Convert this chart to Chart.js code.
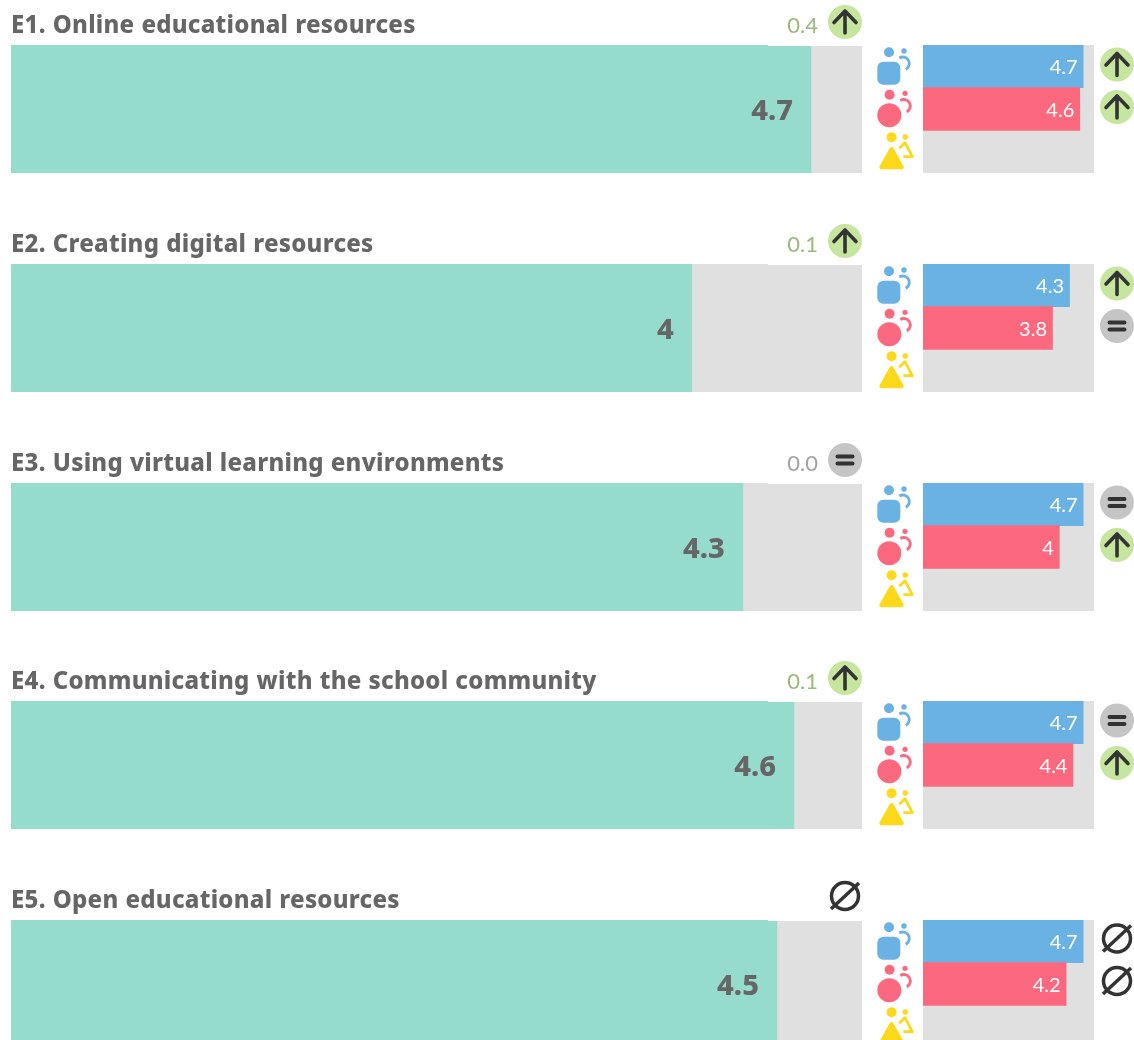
<!DOCTYPE html>
<html><head><meta charset="utf-8">
<style>
html,body{margin:0;padding:0;background:#fff;width:1134px;height:1040px;overflow:hidden}
.c{position:absolute}
canvas{display:block}
</style>
<script src="https://cdn.jsdelivr.net/npm/chart.js@4"></script>
</head><body>
<script>
const areaTitles = ["E1. Online educational resources","E2. Creating digital resources","E3. Using virtual learning environments","E4. Communicating with the school community","E5. Open educational resources"];
const overallValues = [4.7,4,4.3,4.6,4.5];
const overallChangeLabels = ["0.4","0.1","0.0","0.1",null];
const overallStatus = ["up","up","equal","up","none"];
const groups = ["Men","Women","Other"];
const menValues = [4.7,4.3,4.7,4.7,4.7];
const womenValues = [4.6,3.8,4,4.4,4.2];
const otherValues = [null,null,null,null,null];
const menStatus = ["up","up","equal","equal","none"];
const womenStatus = ["up","equal","up","up","none"];
const scaleMax = 5;

const rowTops=[45,264,483,701,920];
const DARK='#333333',TEAL='#96dccd',GREY='#e0e0e0',BLUE='#6ab2e3',PINK='#fc687d',YEL='#fdd81b',GREEN='#c6e69f',BADGEGREY='#c5c5c5';

function badge(ctx,x,y,kind){
  ctx.save();
  ctx.lineCap='round';ctx.lineJoin='round';ctx.strokeStyle=DARK;
  if(kind==='up'){
    ctx.fillStyle=GREEN;ctx.beginPath();ctx.arc(x,y,17,0,Math.PI*2);ctx.fill();
    ctx.lineWidth=3.6;ctx.beginPath();ctx.moveTo(x,y+11);ctx.lineTo(x,y-11);ctx.moveTo(x-11,y+0.5);ctx.lineTo(x,y-11);ctx.lineTo(x+11,y+0.5);ctx.stroke();
  }else if(kind==='equal'){
    ctx.fillStyle=BADGEGREY;ctx.beginPath();ctx.arc(x,y,17,0,Math.PI*2);ctx.fill();
    ctx.lineWidth=4;ctx.beginPath();ctx.moveTo(x-7.5,y-3.4);ctx.lineTo(x+7.5,y-3.4);ctx.moveTo(x-7.5,y+3.4);ctx.lineTo(x+7.5,y+3.4);ctx.stroke();
  }else{
    y-=1;
    ctx.lineWidth=3.5;ctx.beginPath();ctx.arc(x,y,13.5,0,Math.PI*2);ctx.stroke();
    ctx.lineCap='butt';ctx.beginPath();ctx.moveTo(x-14,y+13);ctx.lineTo(x+14,y-13);ctx.stroke();
  }
  ctx.restore();
}
function sideArc(ctx,x,y,col){
  ctx.strokeStyle=col;ctx.lineWidth=2.8;ctx.lineCap='butt';
  ctx.beginPath();ctx.arc(x,y,6.5,-Math.PI*0.68,Math.PI*0.35);ctx.stroke();
}
function iconMen(ctx,x,y){
  ctx.fillStyle=BLUE;
  ctx.beginPath();ctx.arc(x+11.7,y+7.3,5,0,7);ctx.fill();
  ctx.beginPath();ctx.arc(x+26.7,y+6,2.7,0,7);ctx.fill();
  ctx.beginPath();ctx.roundRect(x,y+16.7,23,23,6);ctx.fill();
  sideArc(ctx,x+25.5,y+18.5,BLUE);
}
function iconWomen(ctx,x,y){
  ctx.fillStyle=PINK;
  ctx.beginPath();ctx.arc(x+12.3,y+49.7,5,0,7);ctx.fill();
  ctx.beginPath();ctx.arc(x+27.7,y+48.3,2.6,0,7);ctx.fill();
  ctx.beginPath();ctx.arc(x+12,y+70.3,12,0,7);ctx.fill();
  sideArc(ctx,x+26.5,y+61,PINK);
}
function iconOther(ctx,x,y){
  ctx.fillStyle=YEL;ctx.strokeStyle=YEL;ctx.lineJoin='round';
  ctx.beginPath();ctx.arc(x+14.3,y+92.3,5,0,7);ctx.fill();
  ctx.beginPath();ctx.arc(x+28,y+92,2.7,0,7);ctx.fill();
  ctx.lineWidth=4;ctx.beginPath();ctx.moveTo(x+14.3,y+104);ctx.lineTo(x+24.5,y+122.3);ctx.lineTo(x+4,y+122.3);ctx.closePath();ctx.fill();ctx.stroke();
  ctx.lineWidth=2.8;ctx.lineCap='butt';ctx.beginPath();ctx.moveTo(x+22,y+103.3);ctx.lineTo(x+27.7,y+97.7);ctx.lineTo(x+35,y+111.7);ctx.lineTo(x+26,y+111.7);ctx.stroke();
}
const panelBg={id:'panelBg',beforeDatasetsDraw(ch,a,o){const {left,top,right,height}=ch.chartArea;const c=ch.ctx;c.save();c.fillStyle=GREY;c.fillRect(left,top,Math.ceil(right)-left,height);c.restore();}};
const spacing={id:'spacing',beforeDraw(ch){ch.ctx.letterSpacing='0.25px';ch.ctx.wordSpacing='0.5px';},beforeDatasetsDraw(ch){ch.ctx.letterSpacing='0px';ch.ctx.wordSpacing='0px';}};
const valueLabels={id:'valueLabels',afterDatasetsDraw(ch,a,o){
  const c=ch.ctx,meta=ch.getDatasetMeta(0),ds=ch.data.datasets[0];
  c.save();c.font=o.font;c.fillStyle=o.color;c.textAlign='right';c.textBaseline='middle';
  meta.data.forEach((b,i)=>{if(ds.data[i]==null)return;c.fillText(String(ds.data[i]),b.x-o.inset,b.y+o.dy);});
  c.restore();
}};
const overallMarks={id:'overallMarks',afterDraw(ch,a,o){
  const c=ch.ctx;
  c.save();c.fillStyle='#ffffff';c.fillRect(757,ch.chartArea.top,94,1);c.restore();
  badge(c,o.bx,o.by,o.status);
  if(o.label!=null){c.save();c.font='400 22px Lato';c.fillStyle=o.status==='up'?'#9ab97a':'#a3a3a3';c.textAlign='right';c.textBaseline='middle';c.fillText(o.label,o.lx,o.ly);c.restore();}
}};
const groupMarks={id:'groupMarks',afterDraw(ch,a,o){
  const c=ch.ctx,t=ch.chartArea.top;
  c.save();iconMen(c,0.3,t);iconWomen(c,0.3,t);iconOther(c,0.3,t);c.restore();
  badge(c,240,t+19.5,o.men);badge(c,240,t+62,o.women);
}};
function mount(x,y,w,h){const d=document.createElement('div');d.className='c';d.style.cssText=`left:${x}px;top:${y}px;width:${w}px;height:${h}px`;const cv=document.createElement('canvas');cv.width=w;cv.height=h;d.appendChild(cv);document.body.appendChild(d);return cv;}
const baseScales=(max)=>({x:{min:0,max:max,display:false},y:{display:false}});
areaTitles.forEach((title,i)=>{
  const top=rowTops[i];
  new Chart(mount(11,top-45,851,173),{
    type:'bar',
    data:{labels:[title],datasets:[{data:[overallValues[i]],backgroundColor:TEAL,barPercentage:1,categoryPercentage:1,borderWidth:0}]},
    options:{indexAxis:'y',responsive:false,animation:false,events:[],
      layout:{padding:0},scales:baseScales(scaleMax),
      plugins:{legend:{display:false},tooltip:{enabled:false},
        title:{display:true,text:title,align:'start',color:'#666666',font:{family:'"Noto Sans"',weight:'800',size:24,lineHeight:'30px'},padding:{top:11.5,bottom:3.5}},
        valueLabels:{font:'800 29px "Noto Sans"',color:'#666666',inset:18,dy:3},
        overallMarks:{status:overallStatus[i],label:overallChangeLabels[i],bx:834,by:22,lx:807,ly:26}
      }},
    plugins:[spacing,panelBg,valueLabels,overallMarks]
  });
  new Chart(mount(877,top,257,128),{
    type:'bar',
    data:{labels:groups,datasets:[{data:[menValues[i],womenValues[i],otherValues[i]],backgroundColor:[BLUE,PINK,YEL],barPercentage:1,categoryPercentage:1,borderWidth:0}]},
    options:{indexAxis:'y',responsive:false,animation:false,events:[],
      layout:{padding:{left:46,right:40.6}},scales:baseScales(scaleMax),
      plugins:{legend:{display:false},tooltip:{enabled:false},title:{display:false},
        valueLabels:{font:'400 20px Lato',color:'#ffffff',inset:5.5,dy:1.5},
        groupMarks:{men:menStatus[i],women:womenStatus[i]}
      }},
    plugins:[panelBg,valueLabels,groupMarks]
  });
});
</script>
</body></html>
